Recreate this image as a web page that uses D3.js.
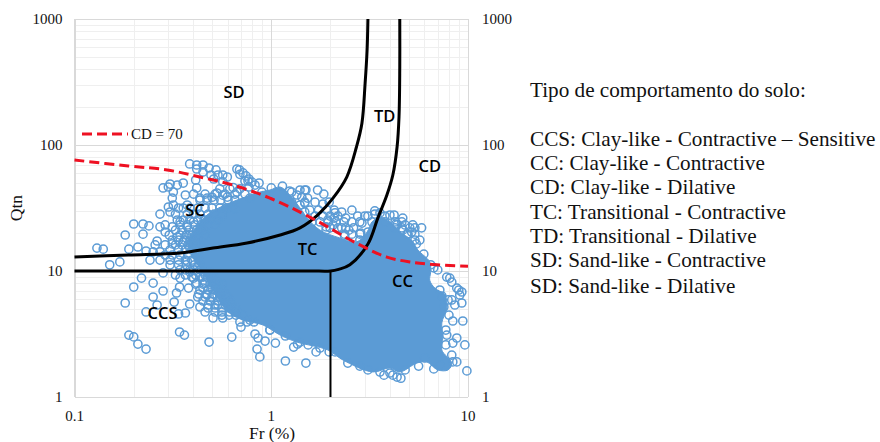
<!DOCTYPE html>
<html lang="en">
<head>
  <meta charset="UTF-8">
  <title>Qtn vs Fr</title>
  <script src="https://d3js.org/d3.v7.min.js"></script>
  <style>
    body { margin: 0; background: #fff; }
    text { font-family: "Liberation Serif", serif; fill: #111; }
    .zone { font-family: "Open Sans", sans-serif; font-weight: 600; font-size: 16.5px; fill: #000; text-anchor: middle; }
    .tick-label { font-size: 15px; }
    .axis-title { font-size: 17.5px; }
    .note { font-size: 21.2px; }
    .axis path, .axis line { shape-rendering: crispEdges; }
  </style>
</head>
<body>
  <div id="chart"></div>
  <script>
    const xTicks = [0.1, 1, 10];
    const yTicks = [1, 10, 100, 1000];

    // [Fr, Qtn]: sparse rings around the dense cloud
    const topRings = [[.385,70.7],[.418,69.4],[.450,69.4],[.418,64.5],[.483,65.7],[.524,63.4],[.450,61.1],[.494,57.8],[.536,57.8],
      [.567,57.8],[.598,55.7],[.510,53.7],[.413,52.7],[.418,45.6],[.357,49.9],[.333,48.1],[.306,49],[.282,45.6],[.300,46.4],
      [.318,42.3],[.366,40.1],[.403,40.8],[.314,37.9],[.434,37.9],[.300,32.2],[.318,33.4],[.338,31.6],[.272,28.3],[.306,29.4],
      [.326,28.3],[.374,33.4],[.472,37.9],[.567,51],[.640,46],[.598,38.6],[.669,42.3],[.530,41.6],[.567,40],[.500,38.5]];
    const fingerRings = [[.669,64.5],[.690,63.4],[.718,60],[.744,56.8],[.770,53.7],[.798,50.8],[.827,48.1],[.693,58.5],[.735,51.8],
      [.770,46.4],[.867,49.9],[.762,51.8],[1.40,43.9],[1.24,43.1],[1.48,43.9],[1.35,40.1],[1.27,35.2],[1.48,35.2],[1.48,29.4]];
    const leftRings = [[.200,23.6],[.223,23.6],[.239,22.8],[.272,22.4],[.289,23.2],[.181,19.3],[.223,19.6],[.263,17.3],[.303,19.3],
      [.314,16.4],[.210,15.5],[.189,14.9],[.130,15.2],[.140,14.9],[.257,16.1],[.231,14.4],[.251,14.2],[.272,14.2],[.170,11.8],
      [.151,11.2],[.374,12],[.333,18.6],[.357,17],[.386,19.3],[.386,15.2],[.423,16.7],[.434,21.1],[.403,24.5],[.374,22.4],
      [.344,24.5],[.314,22.4],[.289,20.4]];
    const lowerLeftRings = [[.219,8.79],[.200,7.46],[.251,8.02],[.282,9.66],[.282,6.94],[.181,5.57],[.251,6.22],[.263,5.37],[.231,4.73],
      [.321,5.67],[.330,6.69],[.342,7.46],[.344,8.79],[.380,7.32],[.418,8.02],[.423,6.22],[.385,5.47],[.434,5.18],[.338,4.56],
      [.366,4.64],[.472,6.45],[.461,4.73],[.506,4.24],[.478,5.37],[.518,5.37],[.530,6.45],[.450,7.32],[.500,7.46],[.189,3.1],
      [.200,3.0],[.210,2.63],[.231,2.4],[.342,3.28],[.362,3.1],[.483,2.73],[.630,2.99],[.403,8.79],[.450,8.95],[.472,9.8],[.506,8.79],
      [.423,10.8],[.386,10.2],[.344,10.2]];
    const lowerRings = [[.847,2.4],[.875,2.08],[1.18,1.93],[1.50,1.86],[.567,4.24],[.702,3.59],
      [.827,3.16],[.857,2.94],[.930,2.78],[1.05,2.68],[.984,3.4],[1.30,2.49],[1.36,2.63],[1.69,2.28],[1.97,2.28],[1.54,2.59]];
    const rightRings = [[1.50,43.9],[1.72,43.9],[1.85,40.8],[1.43,38.6],[1.53,37.9],[1.67,35.2],[1.83,34],[1.97,35.2],[1.48,34.6],
      [2.11,29],[2.28,29.4],[2.39,26.3],[2.28,22],[2.09,26.3],[1.94,25.4],[2.48,21.1],[2.89,24],[3.10,27.3],[3.36,30],[3.57,28.9],
      [2.85,20],[3.25,24.5],[3.10,20.4],[4.01,27.8],[4.21,27.8],[4.66,26.3],[4.79,23.2],[5.24,23.2],[5.81,22],[5.17,20.4],[4.66,21.1],
      [4.36,23.2],[2.06,23.2],[1.90,22.4],[6.46,11.2],[7.02,10.2],[7.80,8.95],[8.08,8.79],[8.27,8.17],[8.77,7.32],[9.30,6.81],
      [8.98,7.06],[9.08,6.45],[8.27,5.89],[8.57,5.37],[9.30,5.57],[9.41,4.01],[8.37,4.01],[7.54,5.18],[7.36,6.33],[7.80,3.1],[8.37,2.68],
      [8.77,2.94],[9.64,2.59],[8.77,1.9],[8.37,1.9],[9.87,1.61],[6.70,1.67],[5.61,1.76],[2.45,1.86],[3.10,1.64],[3.74,1.49],[4.01,1.55],
      [4.15,1.49],[4.36,1.44],[4.56,1.41]];
    // rings along the rim of the cloud
    const rimRings = [[.561,27.3],[.654,31],[.779,37.9],[.897,42.3],[1.0,45.6],[1.14,47.2],[1.27,42.3],[1.40,33.4],[1.61,24.5],[1.90,21.1],
      [2.36,19],[2.82,17.6],[3.36,28.3],[3.78,27.3],[4.3,23.6],[4.9,19.6],[5.46,16.4],[5.96,13.6],[6.70,10.6],[7.19,7.06],[7.92,5.89],
      [8.0,4.47],[7.71,3.4],[7.71,2.59],[8.27,2.15],[7.19,1.79],[6.03,2.04],[4.79,1.64],[3.57,1.58],[2.82,1.76],[2.11,2.28],[1.77,2.45],
      [1.40,2.73],[1.18,3.05],[.984,3.4],[.779,4.08],[.654,4.73],[.59,5.67]];
    // busy ring rows around the cloud: [Qtn, [Fr, ...]]
    const ringRows = [
      [44.8,[.548,.616,.693]],[40.8,[.461,.518,.582,.654,.735]],[36.6,[.434,.472,.512,.554,.603,.654]],
      [31.6,[.357,.386,.423,.461,.500,.548,.59,.63]],[28.3,[.374,.403,.434,.478,.512,.561]],[25.4,[.333,.357,.386,.423,.456,.494,.536]],
      [23.2,[.344,.374,.408,.44,.478,.518]],[21.1,[.326,.352,.381,.418,.45]],[19.3,[.344,.37,.395,.428,.461]],
      [17.6,[.314,.338,.362,.386,.418]],[16.1,[.289,.326,.352,.377,.408,.434]],[14.7,[.306,.338,.366,.395,.428]],
      [13.4,[.289,.314,.344,.377,.413]],[12.2,[.242,.272,.306,.338,.366,.395,.428]],[11.2,[.306,.338,.37,.408,.434]],
      [10.2,[.366,.403,.434]],[9.8,[.386,.423,.456,.488]],[9.3,[.326,.366,.413,.461,.488]],[8.95,[.395,.434,.472,.512]],
      [8.17,[.461,.50,.536]],[7.88,[.413,.45,.488,.524,.561]],[7.06,[.434,.478,.518,.561]],[6.57,[.428,.467,.506,.548,.59]],
      [6.22,[.461,.50,.548,.603]],[5.78,[.45,.488,.536,.575,.623]],[5.37,[.536,.582,.63]],[5.09,[.478,.518,.561,.61,.661]],
      [4.73,[.518,.561,.616,.669]],[4.47,[.561,.61,.661,.718]],[3.94,[.693,.753,.817]]];
    const ringRowsRight = [
      [30.4,[1.57,1.74,1.92,2.09,2.57]],[27.3,[1.67,1.83,1.99,2.18,2.75,2.99]],
      [24.5,[1.77,1.95,2.14,2.34,2.57,2.82,3.78,4.26,4.61]],[22,[1.99,2.18,2.39,2.62,4.26,4.61,5.06,5.37]],
      [19.6,[2.36,2.57,2.82,4.96,5.37]],[17.6,[5.37,5.69]]];

    // outline of the solid part of the cloud, where the rings overlap completely
    const cloudOutline = [[.413,11.8],[.377,16.1],[.413,22],[.478,28.3],[.582,33.4],[.735,38.6],[.875,42.3],[.984,43.9],[1.11,46.4],
      [1.24,40.1],[1.45,29.4],[1.52,26.3],[1.77,21.1],[2.23,18.3],[2.71,17.0],[3.07,20.4],[3.25,24.5],[3.57,26.8],[4.01,24.5],[4.50,20.4],
      [5.17,17.6],[5.56,14.7],[6.39,11.8],[6.46,9.8],[6.39,8.46],[6.78,7.32],[7.63,6.45],[7.80,5.09],[7.36,3.87],[7.45,2.99],[7.36,2.36],
      [8.27,1.86],[7.92,1.64],[7.02,1.64],[6.17,1.90],[5.5,1.86],[4.5,1.58],[4.01,1.70],[3.28,1.58],[2.31,1.97],[1.94,2.36],[1.35,2.73],
      [1.11,3.10],[.908,3.73],[.718,4.08],[.603,4.73],[.536,6.1],[.488,7.74],[.45,9.8]];

    // boundaries
    const upperBoundary = [[.1,12.9],[.188,13.4],[.344,13.9],[.506,15.2],[.753,16.7],[1.11,19.3],[1.40,22],[1.72,27.8],[2.06,37.9],
      [2.42,55.7],[2.71,96.4],[2.89,149],[3.0,310],[3.07,568],[3.10,1000]];
    const lowerBoundary = [[.1,10],[.5,10],[1,10],[1.6,10],[2.0,10],[2.2,10.3],[2.51,11.2],[3.10,16.4],[3.48,26.3],[3.87,40.1],[4.15,57.8],
      [4.36,96.4],[4.46,167],[4.50,416],[4.50,1000]];
    const verticalBoundary = [[2,10],[2,1]];
    const cdLine = [[.1,76],[.188,68.1],[.296,63.4],[.434,55.7],[.638,48.1],[.984,37.9],[1.57,26.8],[2.82,16.1],[3.87,12.9],[5.06,11.8],
      [6.95,11.2],[10,10.9]];

    const zoneLabels = ["SD", "TD", "CD", "SC", "TC", "CC", "CCS"];
    const zoneFr = [.647, 3.77, 6.39, .41, 1.53, 4.65, .28];
    const zoneQtn = [259, 167, 68, 30, 14.7, 8.2, 4.56];

    const notes = ["Tipo de comportamento do solo:", "CCS: Clay-like - Contractive – Sensitive", "CC: Clay-like - Contractive",
      "CD: Clay-like - Dilative", "TC: Transitional - Contractive", "TD: Transitional - Dilative", "SD: Sand-like - Contractive",
      "SD: Sand-like - Dilative"];
    const noteBaselines = [97, 146, 170, 194, 219, 243, 267, 293];

    const margin = { top: 19, left: 74.5 },
          width = 393.5,
          height = 378;

    const svg = d3.select("#chart").append("svg").attr("width", 880).attr("height", 442);
    const g = svg.append("g").attr("transform", `translate(${margin.left},${margin.top})`);

    const x = d3.scaleLog().domain([0.1, 10]).range([0, width]);
    const y = d3.scaleLog().domain([1, 1000]).range([height, 0]);

    // minor and major grid, using the axes with long ticks
    const minors = s => s.ticks().filter(v => Math.abs(Math.log10(v) - Math.round(Math.log10(v))) > 1e-6);
    const grid = (axis, vals, color, sw) => g.append("g").attr("class", "axis")
      .attr("transform", axis === "x" ? `translate(0,${height})` : null)
      .call(axis === "x"
        ? d3.axisBottom(x).tickValues(vals).tickSize(-height).tickFormat("")
        : d3.axisLeft(y).tickValues(vals).tickSize(-width).tickFormat(""))
      .call(a => a.select(".domain").remove())
      .call(a => a.selectAll("line").attr("stroke", color).attr("stroke-width", sw));
    grid("x", minors(x), "#efefef", 1);
    grid("y", minors(y), "#efefef", 1);
    grid("x", xTicks, "#d9d9d9", 1.3);
    grid("y", yTicks, "#d9d9d9", 1.3);

    const line = d3.line().x(d => x(d[0])).y(d => y(d[1]));
    const blue = "#5b9bd5";

    g.append("path")
      .attr("d", line.curve(d3.curveCatmullRomClosed)(cloudOutline))
      .attr("fill", blue).attr("stroke", blue).attr("stroke-width", 1);

    const rows = ringRows.concat(ringRowsRight).flatMap(r => r[1].map(fr => [fr, r[0]]));
    const rings = [].concat(topRings, fingerRings, leftRings, lowerLeftRings, lowerRings, rightRings, rimRings, rows);
    g.selectAll(".dot").data(rings).enter().append("circle")
      .attr("class", "dot")
      .attr("cx", d => x(d[0]))
      .attr("cy", d => y(d[1]))
      .attr("r", 4.1)
      .attr("fill", "none")
      .attr("stroke", blue)
      .attr("stroke-width", 1.5);

    // boundaries and CD line
    line.curve(d3.curveCatmullRom.alpha(0.5));
    [upperBoundary, lowerBoundary].forEach(b => g.append("path").attr("d", line(b))
      .attr("fill", "none").attr("stroke", "#000").attr("stroke-width", 3));
    g.append("path").attr("d", line(verticalBoundary)).attr("fill", "none").attr("stroke", "#000").attr("stroke-width", 2);
    g.append("path").attr("d", line(cdLine)).attr("fill", "none").attr("stroke", "#ee1122")
      .attr("stroke-width", 3).attr("stroke-dasharray", "10,5");

    // tick labels
    g.selectAll(".ly").data(yTicks).enter().append("text").attr("class", "tick-label ly")
      .attr("x", -12).attr("y", d => y(d) + 5).attr("text-anchor", "end").text(d => d);
    g.selectAll(".ry").data(yTicks).enter().append("text").attr("class", "tick-label ry")
      .attr("x", width + 14).attr("y", d => y(d) + 5).text(d => d);
    g.selectAll(".lx").data(xTicks).enter().append("text").attr("class", "tick-label lx")
      .attr("x", d => x(d)).attr("y", height + 24).attr("text-anchor", "middle").text(d => d);

    svg.append("text").attr("class", "axis-title").attr("x", 272).attr("y", 439).attr("text-anchor", "middle").text("Fr (%)");
    svg.append("text").attr("class", "axis-title").attr("transform", "translate(22,208) rotate(-90)")
      .attr("text-anchor", "middle").text("Qtn");

    // zones
    g.selectAll(".zone").data(zoneLabels).enter().append("text").attr("class", "zone")
      .attr("x", (d, i) => x(zoneFr[i])).attr("y", (d, i) => y(zoneQtn[i]) + 5.5).text(d => d);

    // legend for the dashed line
    svg.append("line").attr("x1", 82).attr("x2", 128).attr("y1", 134).attr("y2", 134)
      .attr("stroke", "#ee1122").attr("stroke-width", 3).attr("stroke-dasharray", "10,5");
    svg.append("text").attr("class", "tick-label").attr("x", 131).attr("y", 139).text("CD = 70");

    // notes on the right
    svg.selectAll(".note").data(notes).enter().append("text").attr("class", "note")
      .attr("x", 530).attr("y", (d, i) => noteBaselines[i]).text(d => d);
  </script>
</body>
</html>
